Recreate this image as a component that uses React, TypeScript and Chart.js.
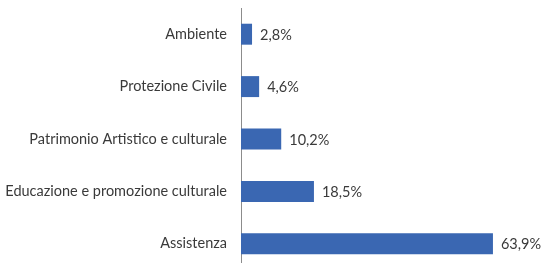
import React, { useEffect, useRef } from "react";
import { Chart, registerables } from "chart.js";

Chart.register(...registerables);

const categories = [
  "Ambiente",
  "Protezione Civile",
  "Patrimonio Artistico e culturale",
  "Educazione e promozione culturale",
  "Assistenza",
];
const values = [2.8, 4.6, 10.2, 18.5, 63.9];
const valueLabels = ["2,8%", "4,6%", "10,2%", "18,5%", "63,9%"];

const FONT = "Lato, 'Open Sans', sans-serif";
const TEXT = "#3a3a3a";

const valueLabelPlugin = {
  id: "valueLabels",
  afterDatasetsDraw(chart: any) {
    const ctx = chart.ctx;
    const meta = chart.getDatasetMeta(0);
    ctx.save();
    ctx.font = `14.5px ${FONT}`;
    ctx.fillStyle = TEXT;
    ctx.textAlign = "left";
    ctx.textBaseline = "middle";
    meta.data.forEach((bar: any, i: number) => {
      ctx.fillText(valueLabels[i], bar.x + 8, bar.y + 1);
    });
    ctx.restore();
  },
};

export default function App() {
  const ref = useRef<HTMLCanvasElement | null>(null);
  useEffect(() => {
    if (!ref.current) return;
    const chart = new Chart(ref.current, {
      type: "bar",
      data: {
        labels: categories,
        datasets: [
          {
            data: values,
            backgroundColor: "#3A67B2",
            borderWidth: 0,
            categoryPercentage: 0.4,
            barPercentage: 1,
          },
        ],
      },
      options: {
        indexAxis: "y",
        animation: false,
        responsive: true,
        maintainAspectRatio: false,
        layout: { padding: { top: 8, bottom: 2, right: 24, left: 0 } },
        plugins: {
          legend: { display: false },
          tooltip: { enabled: false },
        },
        scales: {
          x: {
            display: false,
            min: 0,
            max: 70,
          },
          y: {
            grid: { display: false, drawTicks: false },
            border: { display: true, color: "#8c8c8c", width: 1 },
            ticks: {
              padding: 14,
              color: TEXT,
              font: { family: FONT, size: 14.5 },
            },
            afterFit(scale: any) {
              scale.paddingTop = 0;
              scale.paddingBottom = 0;
              scale.width = 241;
            },
          },
        },
      },
      plugins: [valueLabelPlugin],
    });
    return () => chart.destroy();
  }, []);
  return (
    <div
      style={{
        position: "fixed",
        left: 0,
        top: 0,
        width: 541,
        height: 263,
        overflow: "hidden",
        background: "#fff",
      }}
    >
      <div style={{ position: "absolute", left: 0, top: 0, width: 541, height: 272 }}>
        <canvas ref={ref} />
      </div>
    </div>
  );
}
